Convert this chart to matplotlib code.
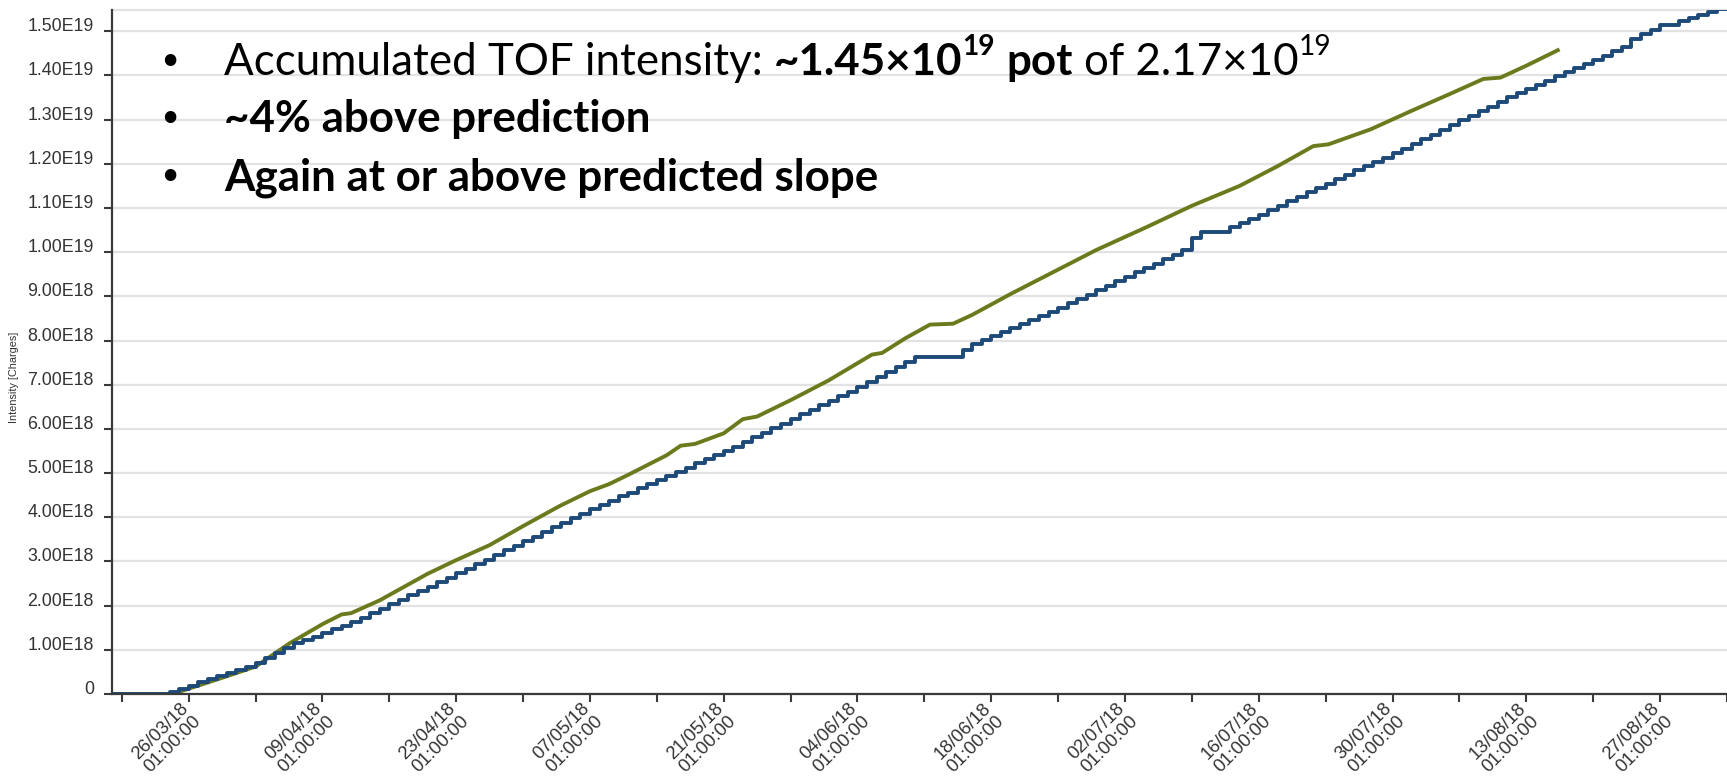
import matplotlib
matplotlib.use("Agg")
import matplotlib.pyplot as plt
import matplotlib.dates as mdates
from matplotlib.ticker import FuncFormatter, FixedLocator, NullFormatter
from matplotlib.transforms import IdentityTransform
import numpy as np
import pandas as pd

# ---------------- data (values in units of 1E18 charges) ----------------
blue_start = "2018-03-18 01:00"   # daily values from this date
blue_values = [
    0.00, 0.00, 0.00, 0.00, 0.00,
    0.00, 0.05, 0.11, 0.19, 0.27, 0.34, 0.41, 0.48, 0.55, 0.62,
    0.70, 0.81, 0.92, 1.04, 1.15, 1.22, 1.29, 1.37, 1.46, 1.55,
    1.64, 1.73, 1.83, 1.93, 2.03, 2.13, 2.23, 2.33, 2.43, 2.53,
    2.63, 2.73, 2.83, 2.94, 3.04, 3.15, 3.25, 3.35, 3.46, 3.56,
    3.67, 3.77, 3.87, 3.98, 4.08, 4.19, 4.28, 4.37, 4.47, 4.56,
    4.66, 4.75, 4.84, 4.94, 5.03, 5.12, 5.22, 5.31, 5.40, 5.50,
    5.60, 5.71, 5.81, 5.91, 6.02, 6.12, 6.22, 6.33, 6.43, 6.53,
    6.64, 6.74, 6.84, 6.95, 7.06, 7.18, 7.29, 7.40, 7.52, 7.63,
    7.63, 7.63, 7.63, 7.63, 7.78, 7.92, 8.01, 8.10, 8.19, 8.28,
    8.37, 8.46, 8.55, 8.64, 8.74, 8.84, 8.94, 9.04, 9.14, 9.24,
    9.34, 9.44, 9.54, 9.64, 9.74, 9.84, 9.94, 10.04, 10.31, 10.46,
    10.46, 10.46, 10.56, 10.65, 10.75, 10.85, 10.95, 11.05, 11.15, 11.25,
    11.35, 11.45, 11.55, 11.65, 11.75, 11.85, 11.95, 12.03, 12.13, 12.24,
    12.34, 12.45, 12.55, 12.66, 12.77, 12.87, 12.98, 13.08, 13.19, 13.29,
    13.40, 13.51, 13.60, 13.70, 13.79, 13.88, 13.98, 14.07, 14.17, 14.26,
    14.35, 14.45, 14.55, 14.65, 14.83, 14.93, 15.03, 15.13, 15.13, 15.22,
    15.30, 15.37, 15.43, 15.50, 15.56,
]

green_dates = [
    "2018-03-18 01:00",
    "2018-03-24 08:00", "2018-03-26 01:00", "2018-03-29 01:00", "2018-04-02 01:00",
    "2018-04-05 15:00", "2018-04-09 01:00", "2018-04-11 01:00", "2018-04-12 01:00",
    "2018-04-15 01:00", "2018-04-20 01:00", "2018-04-23 01:00", "2018-04-26 13:00",
    "2018-04-30 01:00", "2018-05-03 20:00", "2018-05-07 01:00", "2018-05-09 01:00",
    "2018-05-11 01:00", "2018-05-15 01:00", "2018-05-16 13:00", "2018-05-18 01:00",
    "2018-05-21 01:00", "2018-05-23 01:00", "2018-05-24 13:00", "2018-05-28 01:00",
    "2018-06-01 01:00", "2018-06-05 13:00", "2018-06-06 15:00", "2018-06-09 01:00",
    "2018-06-11 15:00", "2018-06-14 01:00", "2018-06-16 01:00", "2018-06-20 01:00",
    "2018-06-24 13:00", "2018-06-29 01:00", "2018-07-04 08:00", "2018-07-09 01:00",
    "2018-07-14 01:00", "2018-07-18 01:00", "2018-07-21 18:00", "2018-07-23 08:00",
    "2018-07-27 18:00", "2018-08-01 01:00", "2018-08-05 01:00", "2018-08-08 13:00",
    "2018-08-10 08:00", "2018-08-13 01:00", "2018-08-16 08:00",
]
green_values = [
    0.00,
    0.00, 0.12, 0.33, 0.62,
    1.15, 1.58, 1.80, 1.83,
    2.12, 2.72, 3.03, 3.37,
    3.80, 4.25, 4.59, 4.75,
    4.96, 5.40, 5.62, 5.66,
    5.90, 6.22, 6.28, 6.65,
    7.10, 7.68, 7.72, 8.05,
    8.36, 8.38, 8.58, 9.05,
    9.55, 10.05, 10.57, 11.05,
    11.50, 11.95, 12.40, 12.44,
    12.78, 13.20, 13.58, 13.92,
    13.95, 14.22, 14.57,
]

y_ticks = list(range(0, 16))          # in units of 1E18
x_tick_start = "2018-03-19 01:00"      # weekly ticks
x_label_first = "2018-03-26 01:00"     # every second tick labelled
x_range = ("2018-03-18 00:30", "2018-09-03 01:00")
y_range = (0, 15.48)
y_label = "Intensity [Charges]"

BLUE = "#1d4a78"
GREEN = "#6b7a1c"
GRID = "#e2e2e2"
AXC = "#3a3a3a"

# ---------------- figure ----------------
W, H = 1727, 778
fig = plt.figure(figsize=(W / 100, H / 100), dpi=100)
left, bottom, top = 112, 694, 10
ax = fig.add_axes([left / W, (H - bottom) / H, (W - left) / W, (bottom - top) / H])

E18 = 1e18
bdates = pd.date_range(blue_start, periods=len(blue_values), freq="D")
ax.plot(pd.to_datetime(green_dates), np.array(green_values) * E18, color=GREEN,
        lw=2.8, zorder=3)
ax.plot(bdates, np.array(blue_values) * E18, color=BLUE, lw=2.8,
        drawstyle="steps-post", zorder=3)

ax.set_xlim(pd.Timestamp(x_range[0]), pd.Timestamp(x_range[1]))
ax.set_ylim(y_range[0] * E18, y_range[1] * E18)

# y axis
ax.yaxis.set_major_locator(FixedLocator([v * E18 for v in y_ticks]))


def yfmt(v, pos):
    if v == 0:
        return "0"
    if v >= 1e19 - 1:
        return f"{v / 1e19:.2f}E19"
    return f"{v / 1e18:.2f}E18"


ax.yaxis.set_major_formatter(FuncFormatter(yfmt))
ax.grid(axis="y", color=GRID, lw=1.6, zorder=0)
ax.set_axisbelow(True)

# x axis: weekly ticks, every second one labelled (labels drawn as rotated text)
xt = pd.date_range(x_tick_start, x_range[1], freq="7D")
ax.xaxis.set_major_locator(FixedLocator(mdates.date2num(xt)))
ax.xaxis.set_major_formatter(NullFormatter())
first = pd.Timestamp(x_label_first)
for d in xt:
    k = round((d - first).total_seconds() / 86400)
    if k % 14 != 0:
        continue
    ax.annotate(d.strftime("%d/%m/%y") + "\n" + d.strftime("%H:%M:%S"),
                xy=(mdates.date2num(d), 0), xycoords=("data", "axes fraction"),
                xytext=(-6.5, -4.2), textcoords="offset points",
                rotation=45, rotation_mode="anchor", ha="right", va="top",
                multialignment="center", linespacing=1.1,
                fontsize=13.3, color="#333333", family="Liberation Sans",
                annotation_clip=False)

ax.spines["right"].set_visible(False)
ax.spines["top"].set_color(GRID)
ax.spines["top"].set_linewidth(1.6)
for s in ("left", "bottom"):
    ax.spines[s].set_color(AXC)
    ax.spines[s].set_linewidth(1.6)
    ax.spines[s].set_zorder(4)

ax.tick_params(axis="both", direction="out", length=6, width=1.5, color=AXC)
ax.tick_params(axis="y", pad=7, labelsize=12.8, labelcolor="#333333")
for lab in ax.get_yticklabels():
    lab.set_fontfamily("Liberation Sans")
    lab.set_va("baseline")

fig.text(14 / W, 1 - 377 / H, y_label, rotation=90, ha="center", va="center",
         fontsize=7.8, color="#333333", family="Liberation Sans")

# ---------------- bullet text ----------------
fig.canvas.draw()
renderer = fig.canvas.get_renderer()
TF = IdentityTransform()
FONT = "Lato"
FS = 31.6


def wid(t):
    return t.get_window_extent(renderer).width


probe1 = fig.text(0, 0, "a a", fontsize=FS, family=FONT)
probe2 = fig.text(0, 0, "aa", fontsize=FS, family=FONT)
SPACE = wid(probe1) - wid(probe2)
probe1.remove()
probe2.remove()


def put_line(x, base_from_top, runs):
    y = H - base_from_top
    for text, weight, sup, space_before in runs:
        if space_before:
            x += SPACE
        size = FS * 0.64 if sup else FS
        yy = y + (FS * 0.45 * 100 / 72 if sup else 0)
        t = fig.text(x, yy, text, transform=TF, fontsize=size, fontweight=weight,
                     family=FONT, ha="left", va="baseline", color="black")
        x += wid(t)


bullet_x = 158
text_x = 224
lines = [
    (75, [("Accumulated TOF intensity:", "normal", False, False),
          ("~1.45\u00d710", "bold", False, True),
          ("19", "bold", True, False),
          ("pot", "bold", False, True),
          ("of 2.17\u00d710", "normal", False, True),
          ("19", "normal", True, False)]),
    (132, [("~4% above prediction", "bold", False, False)]),
    (190, [("Again at or above predicted slope", "bold", False, False)]),
]
for base, runs in lines:
    fig.text(bullet_x, H - base, "\u2022", transform=TF, fontsize=FS * 0.9,
             family="DejaVu Sans", ha="left", va="baseline")
    put_line(text_x, base, runs)

fig.savefig("out.png", dpi=100)
